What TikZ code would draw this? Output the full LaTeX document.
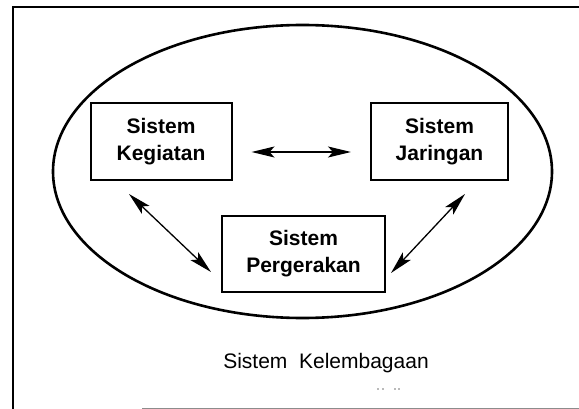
\documentclass[tikz,border=0pt]{standalone}
\usepackage{fontspec}
\setmainfont{Liberation Sans}
\usetikzlibrary{arrows.meta,calc,shapes.geometric}
\begin{document}
\begin{tikzpicture}[x=1pt,y=-1pt,
  sysbox/.style={draw, line width=2pt, rectangle, align=center, inner sep=0pt,
     font=\fontsize{21}{27}\selectfont\bfseries},
  dbl/.style={line width=1.3pt, {Stealth[length=23pt,width=11pt,inset=5pt]}-{Stealth[length=23pt,width=11pt,inset=5pt]}},
  frameline/.style={line width=2.4pt}]
\useasboundingbox (0,0) rectangle (579,409);
% frame
\coordinate (ftl) at (13,7);
\coordinate (ftr) at (579,7);
\coordinate (fbl) at (13,409);
\coordinate (gbl) at (142,408);
\coordinate (gbr) at (579,408);
\draw[frameline] (ftr) -- (ftl) -- (fbl);
\draw[line width=1pt, black!45] (gbl) -- (gbr);
% ellipse
\node (ell) [draw, ellipse, line width=2.6pt, minimum width=499pt, minimum height=293pt, inner sep=0pt] at (302.5,171.5) {};
% boxes
\node (k) [sysbox, minimum width=141pt, minimum height=77pt] at (161,141.5) {Sistem\\Kegiatan};
\node (j) [sysbox, minimum width=137pt, minimum height=77pt] at (439.5,141.5) {Sistem\\Jaringan};
\node (p) [sysbox, minimum width=163pt, minimum height=76pt] at (303.5,254) {Sistem\\Pergerakan};
% arrows
\draw[dbl] ($(k.east)+(19,10.5)$) -- ($(j.west)+(-19,10.5)$);
\draw[dbl] ($(k.south west)+(39.5,13)$) -- ($(p.south west)+(-10,-21)$);
\draw[dbl] ($(j.south)+(25.5,13)$) -- ($(p.south east)+(5,-20)$);
% label
\node (lbl) [font=\fontsize{21}{24}\selectfont] at (326,363) {Sistem\ \ Kelembagaan};
% specks
\foreach \xx in {378,383,395,399}{\fill[black!55] (\xx,389) circle (0.8pt);}
\end{tikzpicture}
\end{document}
